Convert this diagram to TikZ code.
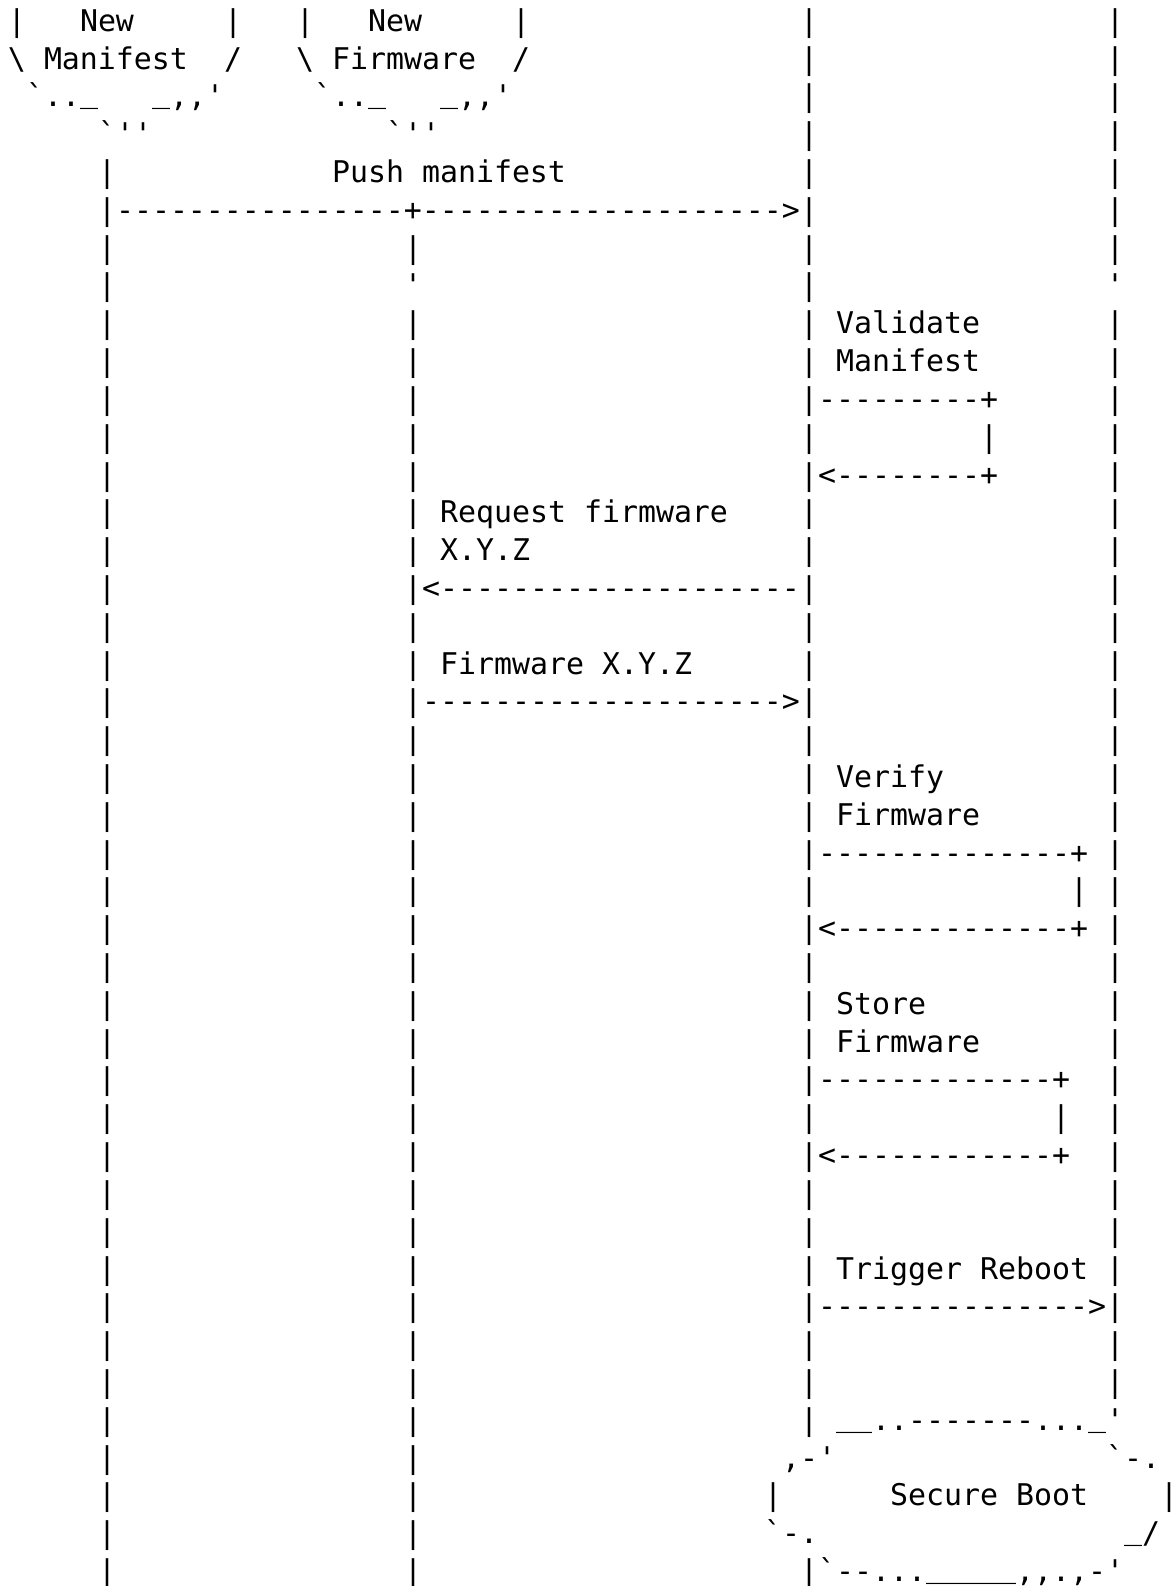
\documentclass[tikz,border=0pt]{standalone}
\usepackage{fontspec}
\setmonofont{DejaVu Sans Mono}
\tikzset{asc/.style={anchor=base west,inner sep=0pt,outer sep=0pt,text=black,
  font=\ttfamily\fontsize{14.95pt}{18pt}\selectfont}}
% column c, row r  ->  cell left edge / baseline
\newcommand\putcell[4]{\node[asc] (#1) at ({4+9*(#2)},{-15.65-18.905*(#3)}) {#4};}
% underscore, set a little higher (as in the reference font)
\newcommand\us{\raisebox{2pt}{\_}}
\begin{document}
\begin{tikzpicture}[x=1pt,y=1pt]
\fill[white] (0,0) rectangle (588,-793);
\useasboundingbox (0,0) rectangle (588,-793);

% ---- lifelines ----
\foreach \r in {4,...,41} {\putcell{A\r}{5}{\r}{|}}
\putcell{B6}{22}{6}{|}
\putcell{B7}{22}{7}{'}
\foreach \r in {8,...,41} {\putcell{B\r}{22}{\r}{|}}
\foreach \r in {0,...,37} {\putcell{C\r}{44}{\r}{|}}
\foreach \r in {0,...,6} {\putcell{D\r}{61}{\r}{|}}
\putcell{D7}{61}{7}{'}
\foreach \r in {8,...,36} {\putcell{D\r}{61}{\r}{|}}

% ---- New Manifest cloud ----
\putcell{nm0a}{0}{0}{|}
\putcell{nm0b}{4}{0}{New}
\putcell{nm0c}{12}{0}{|}
\putcell{nm1a}{0}{1}{\textbackslash}
\putcell{nm1b}{2}{1}{Manifest}
\putcell{nm1c}{12}{1}{/}
\putcell{nm2a}{1}{2}{`..\us}
\putcell{nm2b}{8}{2}{\us,,'}
\putcell{nm3}{5}{3}{`''}

% ---- New Firmware cloud ----
\putcell{nf0a}{16}{0}{|}
\putcell{nf0b}{20}{0}{New}
\putcell{nf0c}{28}{0}{|}
\putcell{nf1a}{16}{1}{\textbackslash}
\putcell{nf1b}{18}{1}{Firmware}
\putcell{nf1c}{28}{1}{/}
\putcell{nf2a}{17}{2}{`..\us}
\putcell{nf2b}{24}{2}{\us,,'}
\putcell{nf3}{21}{3}{`''}

% ---- Push manifest ----
\putcell{pushlbl}{18}{4}{Push manifest}
\putcell{pusharr}{6}{5}{----------------+-------------------->}

% ---- Validate Manifest ----
\putcell{vm1}{46}{8}{Validate}
\putcell{vm2}{46}{9}{Manifest}
\putcell{vm3}{45}{10}{---------+}
\putcell{vm4}{54}{11}{|}
\putcell{vm5}{45}{12}{<--------+}

% ---- Request firmware ----
\putcell{rq1}{24}{13}{Request firmware}
\putcell{rq2}{24}{14}{X.Y.Z}
\putcell{rq3}{23}{15}{<--------------------}

% ---- Firmware X.Y.Z ----
\putcell{fw1}{24}{17}{Firmware X.Y.Z}
\putcell{fw2}{23}{18}{-------------------->}

% ---- Verify Firmware ----
\putcell{vf1}{46}{20}{Verify}
\putcell{vf2}{46}{21}{Firmware}
\putcell{vf3}{45}{22}{--------------+}
\putcell{vf4}{59}{23}{|}
\putcell{vf5}{45}{24}{<-------------+}

% ---- Store Firmware ----
\putcell{sf1}{46}{26}{Store}
\putcell{sf2}{46}{27}{Firmware}
\putcell{sf3}{45}{28}{-------------+}
\putcell{sf4}{58}{29}{|}
\putcell{sf5}{45}{30}{<------------+}

% ---- Trigger Reboot ----
\putcell{tr1}{46}{33}{Trigger Reboot}
\putcell{tr2}{45}{34}{--------------->}

% ---- Secure Boot cloud ----
\putcell{sb0}{46}{37}{\us\us..-------...\us'}
\putcell{sb1a}{43}{38}{,-'}
\putcell{sb1b}{61}{38}{`-.}
\putcell{sb2a}{42}{39}{|}
\putcell{sb2b}{49}{39}{Secure Boot}
\putcell{sb2c}{64}{39}{|}
\putcell{sb3a}{42}{40}{`-.}
\putcell{sb3b}{62}{40}{\us/}
\putcell{sb4}{44}{41}{|`--...\us\us\us\us\us,,.,-'}
\end{tikzpicture}
\end{document}
